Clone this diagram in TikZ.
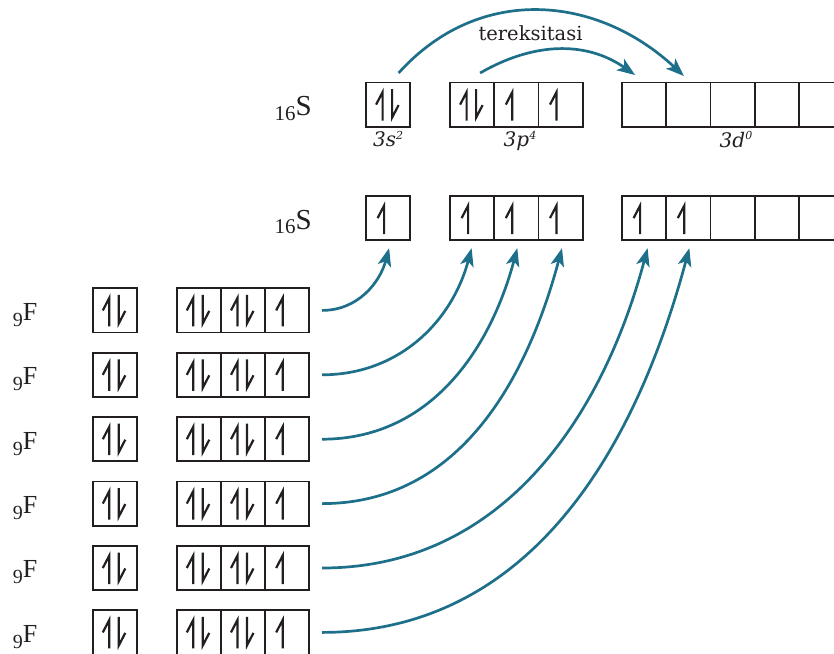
\documentclass[tikz,border=0pt]{standalone}
\usepackage{fontspec}
\newfontfamily\labfont{DejaVu Serif}
\newfontfamily\elfont{Liberation Serif}
\usetikzlibrary{arrows.meta,calc}
\definecolor{arrowteal}{HTML}{1E6F8A}
\definecolor{inkgray}{HTML}{231F20}
\tikzset{
  orb/.style={draw=inkgray, line width=1.8pt, minimum width=44.2pt, minimum height=44.2pt, inner sep=0pt, outer sep=0pt, anchor=north west},
  harp/.style={draw=inkgray, line width=2.2pt, line join=miter},
  conn/.style={draw=arrowteal, line width=2.7pt, -{Stealth[length=18pt,width=13.5pt,inset=4.5pt]}},
  elem/.style={anchor=base east, inner sep=0pt, text=inkgray},
  sublab/.style={anchor=base, inner sep=0pt, text=inkgray, font=\labfont\itshape\fontsize{20}{20}\selectfont},
  pics/uph/.style={code={\draw[harp] (-6.5,0) -- (0,-12.5) -- (0,16);}},
  pics/dnh/.style={code={\draw[harp] (0,-15.5) -- (0,13) -- (6.5,0.5);}},
}
\begin{document}
\begin{tikzpicture}[x=1pt,y=-1pt]
\useasboundingbox (0,0) rectangle (834,653);
\clip (0,0) rectangle (834,653);
% sulfur rows
\foreach \r/\y in {a/82.5, b/196}{
  \foreach \i/\x in {1/366,2/450,3/494.2,4/538.4,5/622,6/666.2,7/710.4,8/754.6,9/798.8}
    \node[orb] (\r\i) at (\x,\y) {};
}
\foreach \n in {a1,a2}{
  \pic at ($(\n.center)+(-5.5,0)$) {uph};
  \pic at ($(\n.center)+(4,0)$) {dnh};
}
\foreach \n in {a3,a4,b1,b2,b3,b4,b5,b6}
  \pic at ($(\n.center)+(-4,0)$) {uph};
\node[elem, font=\elfont\fontsize{29}{29}\selectfont] (ls1) at (312,115.5) {\raisebox{-4.5pt}{\fontsize{21}{21}\selectfont 16}S};
\node[elem, font=\elfont\fontsize{29}{29}\selectfont] (ls2) at (312,229) {\raisebox{-4.5pt}{\fontsize{21}{21}\selectfont 16}S};
\node[sublab] (l3s) at (388.2,146.5) {3s\raisebox{7.5pt}{\fontsize{11}{11}\selectfont 2}};
\node[sublab] (l3p) at (520,146.5) {3p\raisebox{7.5pt}{\fontsize{11}{11}\selectfont 4}};
\node[sublab] (l3d) at (736,147) {3d\raisebox{7.5pt}{\fontsize{11}{11}\selectfont 0}};
\node[anchor=base, inner sep=0pt, text=inkgray, font=\labfont\fontsize{19.5}{19.5}\selectfont] (exc) at (530.5,40.7) {tereksitasi};
% fluorine rows
\foreach \k in {1,...,6}{
  \pgfmathsetmacro\yy{288.3+64.4*(\k-1)}
  \pgfmathsetmacro\yb{\yy+32}
  \node[orb] (fs\k) at (92.7,\yy) {};
  \node[orb] (fa\k) at (176.7,\yy) {};
  \node[orb] (fb\k) at (220.9,\yy) {};
  \node[orb] (fc\k) at (265.1,\yy) {};
  \foreach \n in {fs\k,fa\k,fb\k}{
    \pic at ($(\n.center)+(-5.5,0)$) {uph};
    \pic at ($(\n.center)+(4,0)$) {dnh};
  }
  \pic at ($(fc\k.center)+(-4.5,0)$) {uph};
  \node[elem, font=\elfont\fontsize{26}{26}\selectfont] (lf\k) at (37.5,\yb) {\raisebox{-6pt}{\fontsize{20}{20}\selectfont 9}F};
}
% connectors
\foreach \k/\t/\dx in {1/b1/1, 2/b2/-0.5, 3/b3/1, 4/b4/1.5, 5/b5/3.5, 6/b6/1}
  \draw[conn] ($(fc\k.east)+(12.7,0)$) to[out=0,in=-105] ($(\t.south)+(\dx,8)$);
\draw[conn] ($(a1.north)+(10.5,-9.5)$) to[out=48,in=137,looseness=1.07] ($(a6.north)+(-4.4,-6.5)$);
\draw[conn] ($(a2.north)+(8,-9.5)$) to[out=30,in=145] ($(a5.north)+(-9,-7.5)$);
\end{tikzpicture}
\end{document}
